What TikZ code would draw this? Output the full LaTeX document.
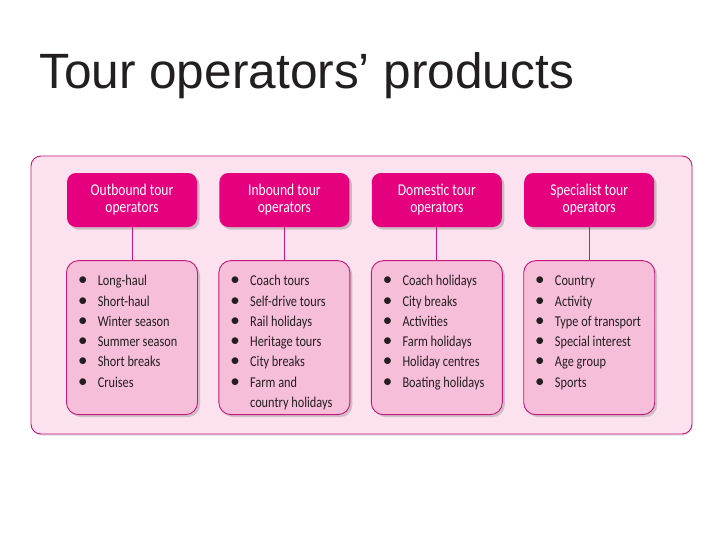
\documentclass[tikz,border=0pt]{standalone}
\usepackage{fontspec}
\setmainfont{Carlito}[FakeStretch=0.82]
\newfontfamily\titlefont{Liberation Sans}
\newfontfamily\dotfont{Carlito}
\usetikzlibrary{positioning,shadows}
\definecolor{rose}{RGB}{229,0,126}
\definecolor{blush}{RGB}{246,190,217}
\definecolor{shell}{RGB}{252,226,238}
\definecolor{plum}{RGB}{196,24,124}
\definecolor{ink}{RGB}{35,31,32}
\newcommand\bul{\makebox[31.5pt][l]{\hspace{16.5pt}\makebox[0pt]{\dotfont\fontsize{19}{19}\selectfont\textbullet}}}
\tikzset{
  panel/.style={draw=plum,fill=shell,rounded corners=10pt,line width=0.9pt,
    minimum width=661pt,minimum height=278pt,
    drop shadow={opacity=0.25,shadow xshift=0.5pt,shadow yshift=-1.5pt}},
  head/.style={fill=rose,text=white,rounded corners=9pt,minimum width=130pt,
    minimum height=54pt,align=center,font=\fontsize{16.5}{17}\selectfont,
    drop shadow={opacity=0.4,shadow xshift=2.5pt,shadow yshift=-2.5pt}},
  list/.style={draw=plum,fill=blush,rounded corners=12pt,line width=0.9pt,
    minimum width=131pt,minimum height=154pt,
    drop shadow={opacity=0.35,shadow xshift=2.5pt,shadow yshift=-2.5pt}},
  entries/.style={anchor=base west,inner sep=0pt,text=ink,
    font=\fontsize{15}{20.3}\selectfont},
  link/.style={draw=plum,line width=0.8pt},
}
\begin{document}
\begin{tikzpicture}[x=1pt,y=-1pt]
  \fill[white] (0,0) rectangle (728,546);
  \useasboundingbox (0,0) rectangle (728,546);
  \node[anchor=base west,inner sep=0pt,font=\titlefont\fontsize{49.6}{49.6}\selectfont,text=ink] (title) at (39,88) {Tour operators’ products};
  \node[panel] (board) at (361.5,295) {};
  % headings
  \node[head] (outbound) at (132,200) {Outbound tour\\operators};
  \node[head,right=22pt of outbound] (inbound) {Inbound tour\\operators};
  \node[head,right=22pt of inbound] (domestic) {Domestic tour\\operators};
  \node[head,right=22pt of domestic] (specialist) {Specialist tour\\operators};
  % product lists
  \node[list,below=33pt of outbound] (outboundL) {};
  \node[list,below=33pt of inbound] (inboundL) {};
  \node[list,below=33pt of domestic] (domesticL) {};
  \node[list,below=33pt of specialist] (specialistL) {};
  \foreach \op in {outbound,inbound,domestic,specialist}
    \draw[link] (\op) -- (\op L);
  \node[entries] (outboundT) at ([yshift=-25.5pt]outboundL.north west) {\begin{tabular}[t]{@{}l@{}l@{}}
    \bul & Long-haul\\ \bul & Short-haul\\ \bul & Winter season\\
    \bul & Summer season\\ \bul & Short breaks\\ \bul & Cruises
  \end{tabular}};
  \node[entries] (inboundT) at ([yshift=-25.5pt]inboundL.north west) {\begin{tabular}[t]{@{}l@{}l@{}}
    \bul & Coach tours\\ \bul & Self-drive tours\\ \bul & Rail holidays\\
    \bul & Heritage tours\\ \bul & City breaks\\ \bul & Farm and\\ & country holidays
  \end{tabular}};
  \node[entries] (domesticT) at ([yshift=-25.5pt]domesticL.north west) {\begin{tabular}[t]{@{}l@{}l@{}}
    \bul & Coach holidays\\ \bul & City breaks\\ \bul & Activities\\
    \bul & Farm holidays\\ \bul & Holiday centres\\ \bul & Boating holidays
  \end{tabular}};
  \node[entries] (specialistT) at ([yshift=-25.5pt]specialistL.north west) {\begin{tabular}[t]{@{}l@{}l@{}}
    \bul & Country\\ \bul & Activity\\ \bul & Type of transport\\
    \bul & Special interest\\ \bul & Age group\\ \bul & Sports
  \end{tabular}};
\end{tikzpicture}
\end{document}
